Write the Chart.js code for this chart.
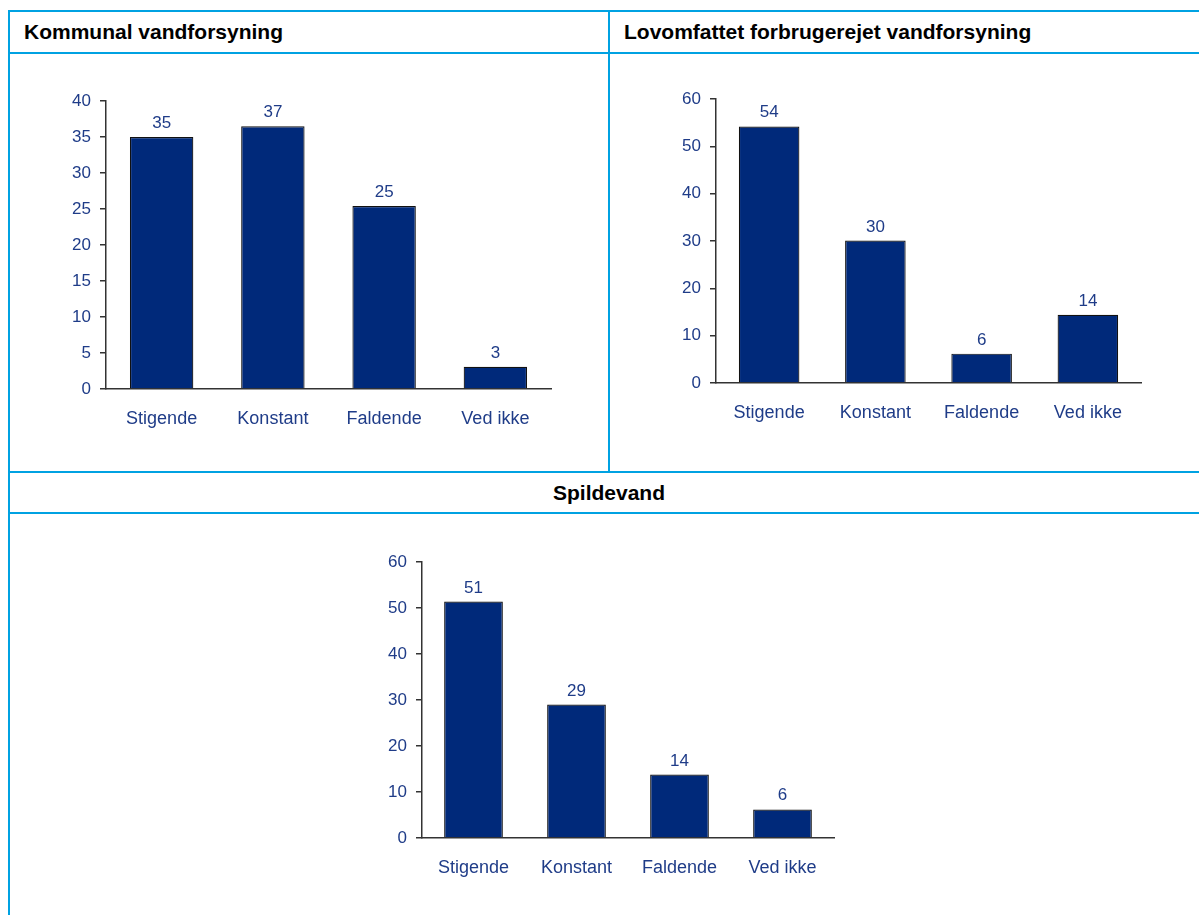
<!DOCTYPE html>
<html>
<head>
<meta charset="UTF-8">
<title>Vandforsyning og spildevand</title>
<script src="https://cdn.jsdelivr.net/npm/chart.js@4.4.4/dist/chart.umd.min.js"></script>
<style>
body { margin:0; background:#fff; font-family:"Liberation Sans", Arial, sans-serif; }
#page { position:relative; width:1199px; height:915px; overflow:hidden; }
.line { position:absolute; background:#00a2e2; }
.head { position:absolute; font-weight:bold; font-size:21px; color:#000; height:40px; line-height:40px; white-space:nowrap; }
canvas { position:absolute; }
</style>
<script>
// data
const categories = ['Stigende', 'Konstant', 'Faldende', 'Ved ikke'];
const kommunalValues = [35.0, 36.5, 25.4, 3.1];
const lovomfattetValues = [54.2, 30.1, 6.2, 14.4];
const spildevandValues = [51.4, 29.0, 13.8, 6.2];
const kommunalAxis = [0, 40, 5];     // min, max, step
const otherAxis = [0, 60, 10];

const navy = '#1f3c88';
const barColor = '#00297a';

// value labels above each bar
const valueLabels = {
  id: 'valueLabels',
  afterDatasetsDraw(chart) {
    const ctx = chart.ctx;
    const meta = chart.getDatasetMeta(0);
    ctx.save();
    ctx.font = '17px "Liberation Sans", Arial, sans-serif';
    ctx.fillStyle = navy;
    ctx.textAlign = 'center';
    ctx.textBaseline = 'alphabetic';
    meta.data.forEach((bar, i) => {
      const v = chart.data.datasets[0].data[i];
      ctx.fillText(Math.round(v), bar.x, bar.y - 9);
    });
    ctx.restore();
  }
};

// area = [left, top, right, bottom] of the plot area on the page
function makeChart(id, values, axis, area) {
  const padL = 70, padT = 25, padR = 15, padB = 50;
  const cv = document.getElementById(id);
  const w = area[2] - area[0] + padL + padR;
  const h = area[3] - area[1] + padT + padB;
  cv.style.left = (area[0] - padL) + 'px';
  cv.style.top = (area[1] - padT) + 'px';
  cv.width = w; cv.height = h;
  cv.style.width = w + 'px'; cv.style.height = h + 'px';

  return new Chart(cv.getContext('2d'), {
    type: 'bar',
    data: {
      labels: categories,
      datasets: [{
        data: values,
        backgroundColor: barColor,
        borderColor: '#111',
        borderWidth: 1.2,
        barPercentage: 0.57,
        categoryPercentage: 1
      }]
    },
    options: {
      responsive: false,
      animation: false,
      layout: { padding: { left: 0, top: padT, right: padR, bottom: 0 } },
      plugins: { legend: { display: false }, tooltip: { enabled: false } },
      scales: {
        x: {
          grid: { display: true, drawOnChartArea: false, drawTicks: false },
          border: { display: true, color: '#333', width: 1.5 },
          ticks: { color: navy, padding: 19, font: { size: 18, family: '"Liberation Sans", Arial, sans-serif' } },
          afterFit(s) { s.height = padB; }
        },
        y: {
          min: axis[0], max: axis[1],
          grid: { display: true, drawOnChartArea: false, drawTicks: true, tickLength: 6, color: '#333', lineWidth: 1.5 },
          border: { display: true, color: '#333', width: 1.5 },
          ticks: { stepSize: axis[2], color: navy, padding: 9, font: { size: 17, family: '"Liberation Sans", Arial, sans-serif' } },
          afterFit(s) { s.width = padL; }
        }
      }
    },
    plugins: [valueLabels]
  });
}

window.addEventListener('load', function () {
  makeChart('chart1', kommunalValues, kommunalAxis, [106, 101, 551, 389]);
  makeChart('chart2', lovomfattetValues, otherAxis, [716, 99, 1141, 383]);
  makeChart('chart3', spildevandValues, otherAxis, [422, 562, 834, 838]);
});
</script>
</head>
<body>
<div id="page">
  <div class="line" style="left:8px; top:10px; width:1300px; height:2px;"></div>
  <div class="line" style="left:8px; top:10px; width:2px; height:1000px;"></div>
  <div class="line" style="left:8px; top:52px; width:1300px; height:2px;"></div>
  <div class="line" style="left:608px; top:10px; width:2px; height:463px;"></div>
  <div class="line" style="left:8px; top:471px; width:1300px; height:2px;"></div>
  <div class="line" style="left:8px; top:512px; width:1300px; height:2px;"></div>

  <div class="head" style="left:24px; top:12px;">Kommunal vandforsyning</div>
  <div class="head" style="left:624px; top:12px;">Lovomfattet forbrugerejet vandforsyning</div>
  <div class="head" style="left:10px; top:473px; width:1198px; text-align:center;">Spildevand</div>

  <canvas id="chart1"></canvas>
  <canvas id="chart2"></canvas>
  <canvas id="chart3"></canvas>
</div>
</body>
</html>
